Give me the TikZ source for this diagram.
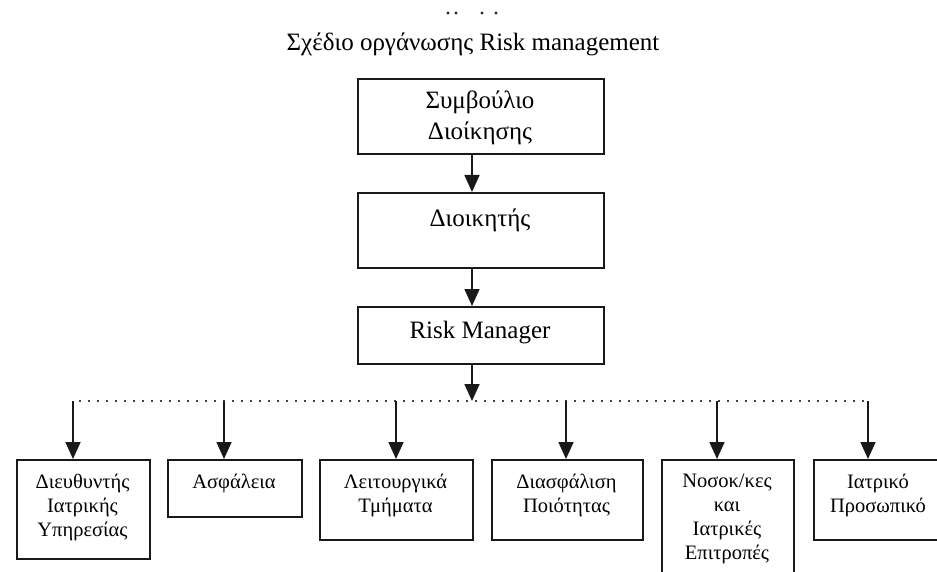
\documentclass[tikz,border=0pt]{standalone}
\usepackage{fontspec}
\setmainfont{Liberation Serif}
\usetikzlibrary{arrows.meta,calc}
\begin{document}
\begin{tikzpicture}[x=1pt,y=-1pt,
  box/.style={draw=black!90, line width=1.7pt, anchor=north west, inner sep=0pt},
  bigtxt/.style={font=\fontsize{25}{31}\selectfont, align=center, inner sep=0pt},
  smalltxt/.style={font=\fontsize{20.5}{24}\selectfont, align=center, inner sep=0pt},
  arr/.style={line width=1.7pt, draw=black!90, -{Triangle[length=17pt,width=15pt]}},
  dotline/.style={line width=2pt, draw=black!75, dash pattern=on 2pt off 7pt, dash phase=-6pt},
  speck/.style={fill=black!85, draw=none},
  ]
\useasboundingbox (0,0) rectangle (937,572);

% cut-off marks at the top
\fill[speck] (448,13) circle (1.6pt);
\fill[speck] (456,13) circle (1.6pt);
\fill[speck] (482,13) circle (1.6pt);
\fill[speck] (496,13) circle (1.6pt);

% title
\node[bigtxt, anchor=base] (title) at (473,51) {Σχέδιο οργάνωσης Risk management};

% upper chain
\node[box, minimum width=246pt, minimum height=75pt] (b1) at (357,78) {};
\node[box, minimum width=246pt, minimum height=75pt] (b2) at (357,192) {};
\node[box, minimum width=246pt, minimum height=57pt] (b3) at (357,306) {};

\node[bigtxt, anchor=north] (t1) at (480,90.5) {Συμβούλιο\\Διοίκησης};
\node[bigtxt, anchor=base] (t2) at (480,226) {Διοικητής};
\node[bigtxt, anchor=base] (t3) at (480,338) {Risk Manager};

\coordinate (ax) at (472,0);
\draw[arr] (b1.south -| ax) -- (b2.north -| ax);
\draw[arr] (b2.south -| ax) -- (b3.north -| ax);

% distribution line
\coordinate (j)  at (472,401);
\coordinate (d1) at (73,401);
\coordinate (d2) at (224,401);
\coordinate (d3) at (396,401);
\coordinate (d4) at (566,401);
\coordinate (d5) at (717,401);
\coordinate (d6) at (868,401);
\draw[arr] (b3.south -| ax) -- (j);
\draw[dotline] (d1) -- (d6);

% lower row
\node[box, minimum width=133pt, minimum height=99pt] (c1) at (16,459) {};
\node[box, minimum width=134pt, minimum height=57pt] (c2) at (167,459) {};
\node[box, minimum width=153pt, minimum height=80pt] (c3) at (319,459) {};
\node[box, minimum width=151pt, minimum height=80pt] (c4) at (491,459) {};
\node[box, minimum width=132pt, minimum height=130pt] (c5) at (661,459) {};
\node[box, minimum width=130pt, minimum height=80pt] (c6) at (813,459) {};

\node[smalltxt, anchor=north] (s1) at (82.5,474) {Διευθυντής\\Ιατρικής\\Υπηρεσίας};
\node[smalltxt, anchor=base] (s2) at (234,488) {Ασφάλεια};
\node[smalltxt, anchor=north] (s3) at (395.5,474) {Λειτουργικά\\Τμήματα};
\node[smalltxt, anchor=north] (s4) at (566.5,474) {Διασφάλιση\\Ποιότητας};
\node[smalltxt, anchor=north] (s5) at (727,474) {Νοσοκ/κες\\και\\Ιατρικές\\Επιτροπές};
\node[smalltxt, anchor=north] (s6) at (878,474) {Ιατρικό\\Προσωπικό};

\draw[arr] (d1) -- (c1.north -| d1);
\draw[arr] (d2) -- (c2.north -| d2);
\draw[arr] (d3) -- (c3.north -| d3);
\draw[arr] (d4) -- (c4.north -| d4);
\draw[arr] (d5) -- (c5.north -| d5);
\draw[arr] (d6) -- (c6.north -| d6);
\end{tikzpicture}
\end{document}
